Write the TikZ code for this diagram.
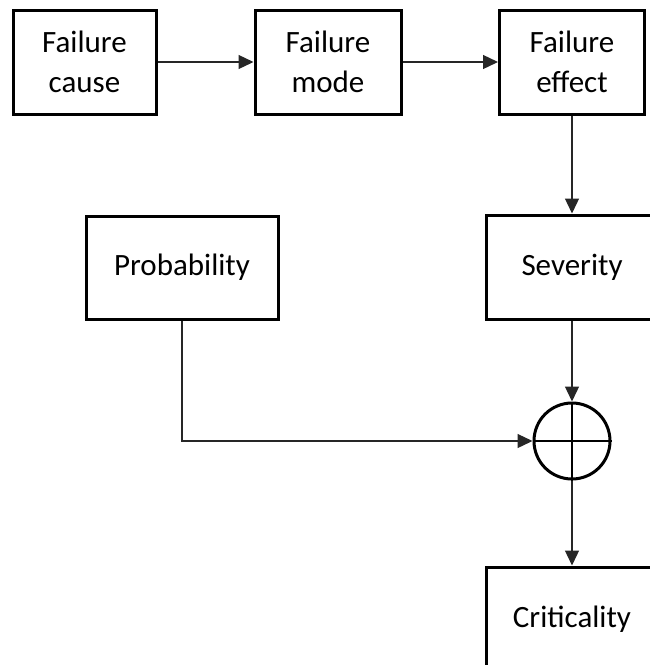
\documentclass[tikz,border=0pt]{standalone}
\usepackage{fontspec}
\setmainfont{Carlito}
\usepackage{tikz}
\usetikzlibrary{arrows.meta, positioning, calc}

\tikzset{
    box/.style={rectangle, draw=black, line width=3pt, fill=white, align=center,
                font=\fontsize{31}{40}\selectfont, inner sep=0pt},
    link/.style={draw=black!85, line width=1.3pt, -{Triangle[length=15pt, width=14pt]}}
}

\begin{document}
\begin{tikzpicture}[x=1pt, y=-1pt]
    \useasboundingbox (0,0) rectangle (650,665);
    \clip (0,0) rectangle (650,665);

    % top row
    \node[box, minimum width=143pt, minimum height=104pt] (cause) at (84.5,62) {Failure\\cause};
    \node[box, minimum width=146pt, minimum height=104pt] (mode) at (328,62) {Failure\\mode};
    \node[box, minimum width=145pt, minimum height=104pt] (effect) at (572,62) {Failure\\effect};

    % middle row
    \node[box, minimum width=192pt, minimum height=103pt] (prob) at (182,267.5) {Probability};
    \node[box, minimum width=172pt, minimum height=104pt] (severity) at (572,267) {Severity};

    % combination and result
    \node[circle, draw=black, line width=3pt, minimum size=76pt, inner sep=0pt] (sum) at (572,441) {};
    \draw[line width=2.6pt] (sum.north) -- (sum.south) (sum.west) -- (sum.east);
    \node[box, minimum width=172pt, minimum height=105pt] (crit) at (572,619.5) {Criticality};

    \draw[link] (cause) -- (mode);
    \draw[link] (mode) -- (effect);
    \draw[link] (effect) -- (severity);
    \draw[link] (severity) -- (sum);
    \draw[link] (prob.south) |- (sum.west);
    \draw[link] (sum) -- (crit);
\end{tikzpicture}
\end{document}
